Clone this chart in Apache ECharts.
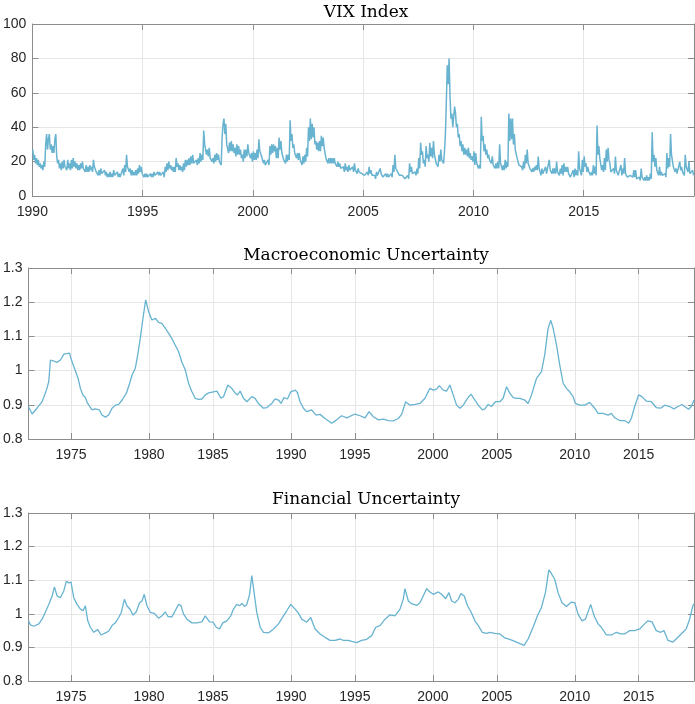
<!DOCTYPE html>
<html><head><meta charset="utf-8">
<script src="https://cdn.jsdelivr.net/npm/echarts@6.0.0/dist/echarts.min.js"></script>
<style>html,body{margin:0;padding:0;background:#fff}#c{width:695px;height:704px}</style>
</head><body><div id="c"></div>
<script>
const titles = ['VIX Index', 'Macroeconomic Uncertainty', 'Financial Uncertainty'];

// VIX, two readings per month (first half, second half), Jan 1990 - Dec 2019
const vixStartYear = 1990;
const vixHalfMonthly = [
  27,21,24,19,22,18,21,17,19,16,18,15,20,17,30,36,27,33,36,27,30,25,29,25,
  33,36,23,19,21,16,19,15,20,16,21,17,18,15,21,16,19,15,21,16,22,17,20,16,
  19,15,18,15,19,16,20,16,17,14,18,14,17,14,18,15,17,14,21,17,18,14,15,12,
  15,12,16,13,14,12,15,12,14,11,13,11,14,11,13,11,15,12,13,11,14,11,13,11,
  12,10,16,12,18,14,24,17,17,14,16,12,15,12,14,12,15,12,16,13,18,14,17,13,
  14,11,13,11,13,11,12,10,13,11,13,11,14,12,13,11,14,12,14,12,13,11,14,11,
  17,14,19,15,20,16,18,15,17,14,17,14,22,17,19,15,18,15,17,14,19,15,21,17,
  21,18,22,18,23,19,24,19,20,18,21,18,22,19,25,20,24,21,38,30,29,24,27,23,
  28,22,23,20,22,19,24,20,25,21,24,20,20,18,34,42,45,36,42,30,30,25,31,26,
  32,26,30,25,28,23,30,24,29,24,27,22,24,20,27,22,27,23,30,25,26,22,25,20,
  26,21,25,21,27,22,33,26,27,23,22,19,21,18,19,17,21,18,29,24,30,25,30,26,
  29,22,28,22,34,27,32,25,25,21,22,19,24,20,24,21,44,32,36,28,30,25,26,22,
  25,21,25,21,22,18,23,19,24,20,28,23,40,32,45,33,42,34,40,30,32,27,31,26,
  32,26,35,29,34,28,27,22,23,19,22,19,22,19,22,19,22,19,20,17,20,17,19,16,
  17,15,17,14,19,15,17,14,18,15,16,14,17,14,19,15,15,13,16,14,15,13,13,12,
  14,12,13,11,14,12,17,13,15,12,13,11,12,10,14,12,13,11,16,13,13,11,12,10,
  13,11,13,11,12,11,13,11,18,14,24,16,17,14,14,12,13,11,12,11,11,10,11,10,
  12,10,19,14,17,13,14,12,14,12,16,13,22,16,31,24,26,19,21,17,29,22,24,20,
  31,23,28,22,32,24,23,19,19,17,24,20,27,21,22,19,26,36,55,76,65,80,58,45,
  48,40,46,52,48,40,42,34,36,29,32,26,30,24,28,24,27,23,28,22,25,21,23,20,
  26,18,25,19,19,16,18,16,46,32,35,26,30,24,27,22,24,21,21,19,23,18,19,16,
  19,16,20,16,30,19,17,15,18,15,21,16,20,17,48,32,45,33,45,30,36,27,28,22,
  22,18,19,17,17,15,20,16,24,19,27,19,20,16,17,14,16,14,17,15,18,15,23,16,
  14,12,16,13,14,12,17,13,14,12,21,15,15,13,16,13,16,13,20,14,14,12,16,13,
  18,12,19,14,17,14,17,13,13,11,12,10,15,11,16,12,15,12,26,16,14,12,21,14,
  23,17,19,14,17,14,14,12,14,12,18,13,17,12,41,24,29,22,22,15,18,14,22,15,
  27,20,28,21,19,14,15,13,16,13,23,15,14,12,13,11,18,12,16,13,22,13,13,11,
  12,11,12,11,13,11,15,11,15,10,11,10,11,9,16,11,12,9,11,9,12,9,11,9,
  13,10,37,20,24,17,22,15,16,12,17,12,14,12,13,11,13,11,25,16,22,17,36,24,
  25,17,16,14,16,13,14,12,20,15,17,14,15,12,24,17,18,14,20,13,13,12,15,12
];

const macroYears = [
  1972.0,1972.26,1972.4,1972.6,1972.96,1973.2,1973.3,1973.43,1973.55,1973.62,1973.78,1974.0,1974.25,1974.5,1974.6,1974.9,1974.96,
  1975.2,1975.5,1975.66,1975.85,1976.0,1976.17,1976.48,1976.7,1977.0,1977.18,1977.42,1977.65,1977.89,1978.12,1978.36,1978.6,1978.9,
  1979.13,1979.3,1979.53,1979.7,1979.88,1980.07,1980.26,1980.47,1980.7,1980.94,1981.17,1981.4,1981.64,1981.88,1982.1,1982.34,1982.58,
  1982.8,1983.05,1983.28,1983.52,1983.75,1984.0,1984.22,1984.46,1984.7,1985.04,1985.28,1985.56,1985.75,1986.05,1986.33,1986.57,1986.73,
  1986.92,1987.15,1987.39,1987.74,1987.97,1988.2,1988.56,1988.8,1989.15,1989.38,1989.62,1989.8,1990.0,1990.25,1990.48,1990.8,1990.95,
  1991.14,1991.38,1991.6,1991.96,1992.27,1992.55,1992.9,1993.37,1993.72,1994.07,1994.43,1995.0,1995.37,1995.72,1996.0,1996.3,1996.66,
  1997.01,1997.36,1997.71,1998.06,1998.3,1998.58,1998.88,1999.24,1999.59,1999.94,2000.29,2000.53,2000.76,2000.95,2001.23,2001.46,2001.7,
  2001.93,2002.17,2002.4,2002.64,2002.94,2003.18,2003.46,2003.7,2003.98,2004.16,2004.4,2004.63,2004.91,2005.22,2005.45,2005.69,2005.92,
  2006.16,2006.39,2006.63,2006.98,2007.21,2007.45,2007.8,2008.15,2008.38,2008.62,2008.81,2008.97,2009.21,2009.44,2009.68,2009.91,2010.14,
  2010.38,2010.54,2010.85,2011.2,2011.55,2011.9,2012.14,2012.49,2012.84,2013.08,2013.31,2013.66,2014.0,2014.3,2014.48,2014.72,2015.0,
  2015.23,2015.54,2015.89,2016.24,2016.55,2016.83,2017.18,2017.49,2017.77,2018.05,2018.24,2018.52,2018.71,2018.9
];
const macroValues = [
  0.895,0.873,0.876,0.890,0.909,0.935,0.948,0.968,1.031,1.036,1.028,1.024,1.031,1.048,1.051,1.051,1.040,
  1.011,0.977,0.948,0.927,0.922,0.904,0.885,0.888,0.885,0.870,0.864,0.870,0.890,0.899,0.901,0.914,0.934,
  0.963,0.987,1.007,1.046,1.094,1.153,1.207,1.172,1.148,1.153,1.141,1.138,1.124,1.109,1.094,1.075,1.055,
  1.026,1.002,0.963,0.938,0.919,0.916,0.917,0.929,0.935,0.938,0.940,0.919,0.924,0.958,0.948,0.934,0.929,
  0.940,0.919,0.909,0.924,0.919,0.904,0.890,0.892,0.904,0.917,0.914,0.904,0.921,0.917,0.938,0.943,0.936,
  0.909,0.890,0.880,0.885,0.870,0.872,0.860,0.846,0.856,0.868,0.862,0.873,0.868,0.862,0.880,0.865,0.856,
  0.858,0.854,0.853,0.860,0.872,0.909,0.899,0.901,0.904,0.919,0.948,0.943,0.946,0.956,0.943,0.940,0.958,
  0.929,0.899,0.890,0.899,0.919,0.931,0.914,0.899,0.885,0.888,0.901,0.895,0.909,0.909,0.919,0.953,0.934,
  0.921,0.919,0.919,0.914,0.904,0.929,0.977,0.997,1.046,1.124,1.147,1.124,1.075,1.016,0.963,0.948,0.938,
  0.924,0.904,0.899,0.899,0.907,0.890,0.875,0.875,0.870,0.875,0.862,0.854,0.854,0.846,0.860,0.895,0.929,
  0.924,0.911,0.909,0.892,0.890,0.899,0.895,0.888,0.895,0.901,0.895,0.887,0.895,0.914
];

const finYears = [
  1972.0,1972.14,1972.38,1972.73,1972.96,1973.2,1973.43,1973.67,1973.83,1974.02,1974.25,1974.49,1974.67,1974.84,1975.0,
  1975.19,1975.42,1975.66,1975.85,1976.01,1976.18,1976.36,1976.6,1976.88,1977.11,1977.42,1977.65,1977.89,1978.12,1978.36,
  1978.54,1978.76,1978.94,1979.18,1979.37,1979.6,1979.83,1980.0,1980.16,1980.35,1980.59,1980.87,1981.17,1981.41,1981.64,
  1981.83,1982.11,1982.34,1982.58,1982.74,1982.93,1983.17,1983.52,1983.87,1984.22,1984.46,1984.57,1984.76,1985.0,1985.23,
  1985.46,1985.7,1985.98,1986.26,1986.45,1986.68,1986.87,1987.04,1987.22,1987.39,1987.58,1987.74,1987.9,1988.09,1988.33,
  1988.56,1988.91,1989.27,1989.62,1989.97,1990.2,1990.48,1990.79,1991.02,1991.26,1991.61,1991.89,1992.2,1992.55,1992.9,
  1993.25,1993.6,1993.96,1994.19,1994.54,1994.78,1995.13,1995.48,1995.83,1996.19,1996.47,1996.77,1997.13,1997.48,1997.83,
  1998.18,1998.41,1998.53,1998.77,1999.0,1999.35,1999.59,1999.82,2000.06,2000.29,2000.53,2000.88,2001.11,2001.4,2001.63,
  2001.82,2002.05,2002.29,2002.47,2002.71,2002.94,2003.18,2003.46,2003.7,2003.98,2004.28,2004.51,2004.87,2005.22,2005.57,
  2005.92,2006.27,2006.63,2006.93,2007.21,2007.56,2007.87,2008.15,2008.43,2008.67,2008.85,2009.09,2009.32,2009.6,2009.91,
  2010.26,2010.5,2010.73,2011.01,2011.25,2011.62,2011.86,2012.14,2012.37,2012.72,2013.08,2013.43,2013.73,2014.01,2014.37,
  2014.72,2015.07,2015.42,2015.66,2015.94,2016.24,2016.55,2016.78,2017.06,2017.42,2017.77,2018.12,2018.35,2018.59,2018.82,2018.9
];
const finValues = [
  0.979,0.967,0.963,0.970,0.984,1.006,1.028,1.053,1.080,1.053,1.048,1.068,1.097,1.092,1.094,
  1.048,1.028,1.014,1.009,1.024,0.979,0.960,0.945,0.953,0.937,0.943,0.948,0.965,0.973,0.989,
  1.004,1.043,1.024,1.012,0.996,1.006,1.033,1.038,1.058,1.024,1.004,1.001,0.987,0.994,1.006,
  0.992,0.991,1.009,1.028,1.025,0.999,0.984,0.973,0.973,0.976,0.994,0.999,0.976,0.975,0.960,
  0.955,0.973,0.979,0.994,1.014,1.028,1.024,1.031,1.022,1.028,1.058,1.114,1.063,1.004,0.960,
  0.945,0.943,0.955,0.970,0.994,1.009,1.028,1.014,1.002,0.984,0.975,0.989,0.955,0.940,0.930,
  0.921,0.921,0.925,0.921,0.921,0.918,0.914,0.921,0.924,0.935,0.960,0.965,0.984,0.997,0.994,
  1.014,1.043,1.075,1.038,1.030,1.025,1.033,1.053,1.075,1.065,1.058,1.065,1.058,1.045,1.063,
  1.038,1.033,1.043,1.060,1.053,1.024,1.006,0.979,0.965,0.945,0.942,0.945,0.942,0.940,0.928,
  0.924,0.918,0.911,0.906,0.925,0.960,0.994,1.019,1.063,1.131,1.120,1.102,1.063,1.033,1.022,
  1.035,1.033,0.999,0.979,0.984,1.028,0.994,0.970,0.960,0.937,0.937,0.945,0.940,0.940,0.950,
  0.950,0.955,0.970,0.979,0.976,0.950,0.945,0.950,0.921,0.916,0.930,0.945,0.955,0.984,1.024,1.030
];

const vixTickValues = [1990, 1995, 2000, 2005, 2010, 2015];
const lowerTickValues = [1975, 1980.5, 1985, 1990.5, 1995, 2000.5, 2005, 2010.5, 2015];
const lowerTickLabels = ['1975','1980','1985','1990','1995','2000','2005','2010','2015'];

const LINE = '#68b3d0';
const AX = '#8c8c8c';
const GRIDC = '#e6e6e6';
const LABC = '#262626';
const LABFONT = 'Liberation Sans';

const vixData = vixHalfMonthly.map((v, i) => [vixStartYear + (i + 0.5) / 24, v]);
const macroData = macroYears.map((y, i) => [y, macroValues[i]]);
const finData = finYears.map((y, i) => [y, finValues[i]]);

const grids = [
  {left: 28, top: 24, width: 666, height: 172},
  {left: 28, top: 268, width: 666, height: 171},
  {left: 28, top: 513, width: 666, height: 170}
];
const titleTops = [-1, 242, 486];

const xAxes = [], yAxes = [];
function xPair(gi, min, max, custom) {
  const tick = {show: true, inside: true, length: 6, lineStyle: {color: AX}};
  const lab = {color: LABC, fontFamily: LABFONT, fontSize: 14, margin: 9};
  const base = {type: 'value', gridIndex: gi, min: min, max: max,
    axisLine: {show: true, onZero: false, lineStyle: {color: AX}}};
  const ticksAt = custom ? lowerTickValues : vixTickValues;
  const bottom = Object.assign({}, base, {position: 'bottom',
    axisTick: Object.assign({}, tick, {customValues: ticksAt}),
    axisLabel: Object.assign({}, lab, {customValues: ticksAt,
      formatter: v => { if (!custom) return String(v); const k = lowerTickValues.indexOf(v); return k >= 0 ? lowerTickLabels[k] : ''; }}),
    splitLine: {show: true, lineStyle: {color: GRIDC}}});
  const top = Object.assign({}, base, {position: 'top',
    axisTick: Object.assign({}, tick, {customValues: ticksAt}),
    axisLabel: {show: false}, splitLine: {show: false}});
  xAxes.push(bottom, top);
}
function yPair(gi, min, max, interval, fmt) {
  const tick = {show: true, inside: true, length: 6, lineStyle: {color: AX}};
  const base = {type: 'value', gridIndex: gi, min: min, max: max, interval: interval,
    axisLine: {show: true, onZero: false, lineStyle: {color: AX}}};
  yAxes.push(Object.assign({}, base, {position: 'left', axisTick: tick,
    axisLabel: {color: LABC, fontFamily: LABFONT, fontSize: 14, margin: 6, formatter: fmt},
    splitLine: {show: true, lineStyle: {color: GRIDC}}}));
  yAxes.push(Object.assign({}, base, {position: 'right', axisTick: tick,
    axisLabel: {show: false}, splitLine: {show: false}}));
}
xPair(0, 1990, 2020, false);
xPair(1, 1972, 2018.9, true);
xPair(2, 1972, 2018.9, true);
yPair(0, 0, 100, 20, v => String(v));
yPair(1, 0.8, 1.3, 0.1, v => String(+v.toFixed(1)));
yPair(2, 0.8, 1.3, 0.1, v => String(+v.toFixed(1)));

const datasets = [vixData, macroData, finData];
const widths = [1.5, 1.3, 1.3];
const series = datasets.map((d, i) => ({
  type: 'line', xAxisIndex: 2 * i, yAxisIndex: 2 * i, data: d,
  showSymbol: false, symbol: 'none', smooth: false, sampling: null,
  lineStyle: {color: LINE, width: widths[i]}, z: 3
}));

const chart = echarts.init(document.getElementById('c'), null, {renderer: 'canvas'});
chart.setOption({
  animation: false,
  backgroundColor: '#fff',
  title: titles.map((t, i) => ({text: t, left: 361, top: titleTops[i], textAlign: 'center',
    textStyle: {fontFamily: 'DejaVu Serif', fontSize: 17, fontWeight: 'normal', color: '#000'}})),
  grid: grids,
  xAxis: xAxes,
  yAxis: yAxes,
  series: series
});
</script></body></html>
